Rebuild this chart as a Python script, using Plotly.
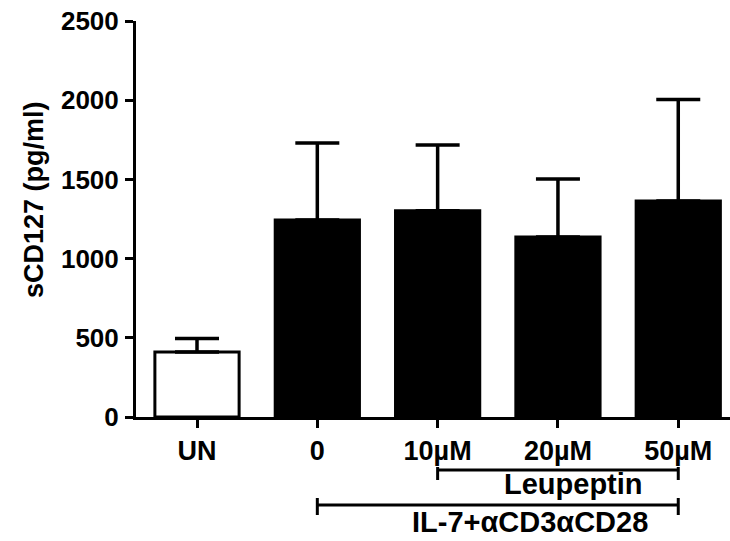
import plotly.graph_objects as go

# sCD127 release: unstimulated vs IL-7+aCD3aCD28 with increasing Leupeptin
categories = ["UN", "0", "10µM", "20µM", "50µM"]
means = [410, 1244, 1302, 1136, 1364]
sd_upper = [85, 486, 415, 367, 640]
bar_fills = ["white", "black", "black", "black", "black"]
y_ticks = [0, 500, 1000, 1500, 2000, 2500]

FONT = "Arial, Liberation Sans, sans-serif"

fig = go.Figure()
fig.add_trace(go.Bar(
    x=categories,
    y=means,
    width=0.70,
    marker=dict(color=bar_fills, line=dict(color="black", width=3)),
    error_y=dict(type="data", array=sd_upper, arrayminus=[0] * len(means),
                 symmetric=False, color="black", thickness=3.5, width=22),
    showlegend=False,
))

W, H = 730, 541
L, R, T, B = 136, 0, 21, 124
plot_w = W - L - R
plot_h = H - T - B


def py(pix):
    """Pixel row below the plot -> paper coordinate."""
    return (H - B - pix) / plot_h


def px(pix):
    """Pixel column -> paper coordinate."""
    return (pix - L) / plot_w


# group brackets under the x axis
i10 = categories.index("10µM")
i0 = categories.index("0")
i50 = categories.index("50µM")
line = dict(color="black", width=3)
shapes = [
    dict(type="line", xref="x", yref="paper", x0=i10, x1=i50, y0=py(470), y1=py(470), line=line),
    dict(type="line", xref="x", yref="paper", x0=i10, x1=i10, y0=py(467), y1=py(480), line=line),
    dict(type="line", xref="x", yref="paper", x0=i50, x1=i50, y0=py(467), y1=py(480), line=line),
    dict(type="line", xref="x", yref="paper", x0=i0, x1=i50, y0=py(505), y1=py(505), line=line),
    dict(type="line", xref="x", yref="paper", x0=i0, x1=i0, y0=py(498), y1=py(515), line=line),
    dict(type="line", xref="x", yref="paper", x0=i50, x1=i50, y0=py(498), y1=py(515), line=line),
]

annotations = [
    dict(text="<b>Leupeptin</b>", xref="paper", yref="paper", x=px(573), y=py(484),
         xanchor="center", yanchor="middle", showarrow=False,
         font=dict(family=FONT, size=29, color="black")),
    dict(text="<b>IL-7+αCD3αCD28</b>", xref="paper", yref="paper", x=px(530), y=py(522),
         xanchor="center", yanchor="middle", showarrow=False,
         font=dict(family=FONT, size=29, color="black")),
    dict(text="<b>sCD127 (pg/ml)</b>", xref="paper", yref="paper", x=px(34),
         y=py(200), textangle=-90, showarrow=False, xanchor="center", yanchor="middle",
         font=dict(family=FONT, size=27, color="black")),
]

fig.update_layout(
    width=W, height=H,
    margin=dict(l=L, r=R, t=T, b=B),
    plot_bgcolor="white", paper_bgcolor="white",
    font=dict(family=FONT, color="black"),
    shapes=shapes,
    annotations=annotations,
)
fig.update_xaxes(
    range=[-0.507, 4.43],
    showline=True, linecolor="black", linewidth=3,
    ticks="outside", ticklen=8, tickwidth=3, tickcolor="black",
    tickfont=dict(family=FONT, size=27, color="black", weight="bold"),
    showgrid=False, zeroline=False,
)
fig.update_yaxes(
    range=[0, 2500], tickvals=y_ticks,
    showline=True, linecolor="black", linewidth=3,
    ticks="outside", ticklen=8, tickwidth=3, tickcolor="black",
    tickfont=dict(family=FONT, size=26, color="black", weight="bold"),
    ticklabelstandoff=1,
    showgrid=False, zeroline=False,
)

fig.write_html("out.html")
